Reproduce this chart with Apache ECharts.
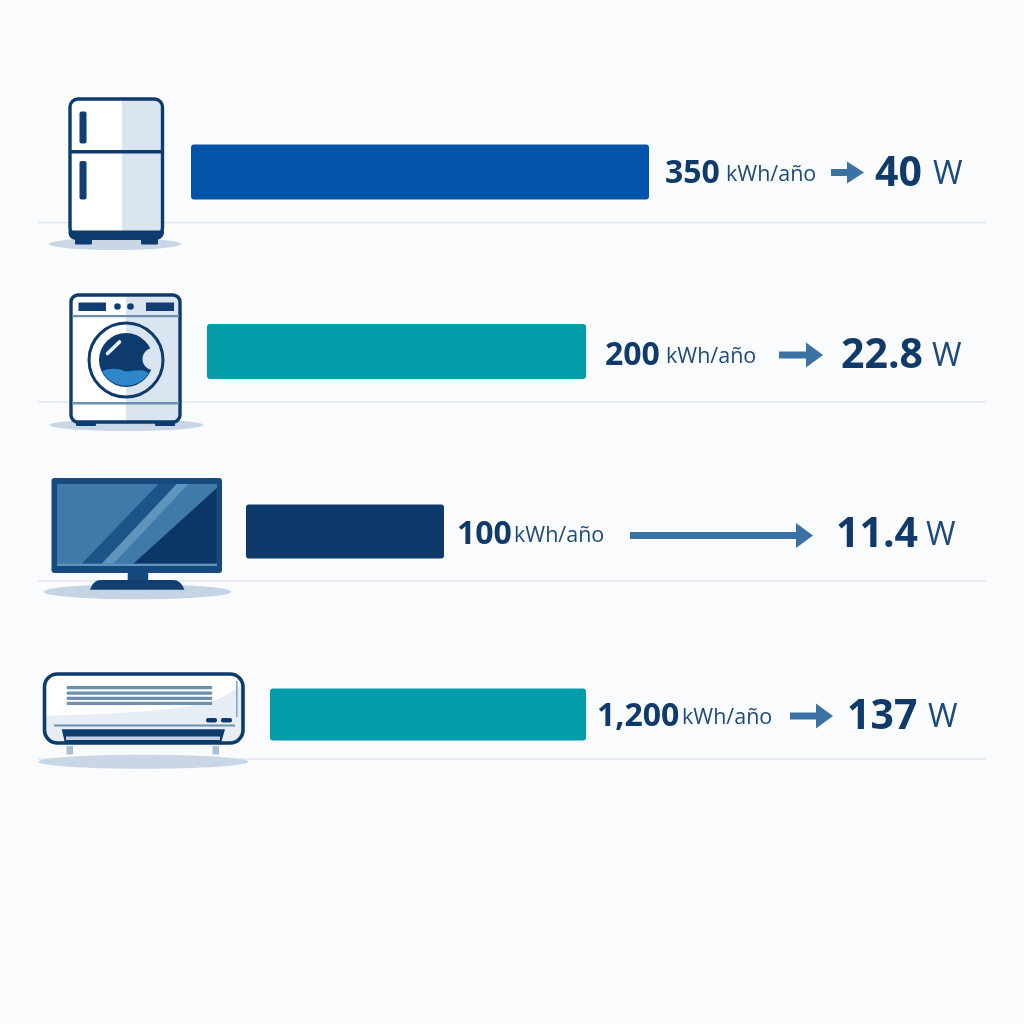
<!DOCTYPE html>
<html>
<head>
<meta charset="utf-8">
<style>html,body{margin:0;padding:0;background:#fafbfd}#c{width:1024px;height:1024px}</style>
<script src="https://cdn.jsdelivr.net/npm/echarts@6/dist/echarts.min.js"></script>
</head>
<body>
<div id="c"></div>
<script>
// ---- data ----
var categories = ['Frigorífico', 'Lavadora', 'Televisor', 'Aire acondicionado'];
var kwhLabels = ['350', '200', '100', '1,200'];
var unitLabel = 'kWh/año';
var wattLabels = ['40', '22.8', '11.4', '137'];
var wattUnit = 'W';
var barStart = [191, 207, 246, 270];
var barEnd = [649, 586, 444, 586];
var rowCenter = [172, 351.5, 531.5, 714.5];
var barThickness = [55, 55, 54, 52];
var baseLine = [222.5, 402, 581, 759];
var kwhX = [665, 605, 457, 597];
var unitX = [726, 666, 514, 682];
var arrowStart = [831, 779, 630, 790];
var arrowEnd = [864, 823, 813, 833];
var arrowY = [172.5, 355, 535.5, 716];
var textY = [174, 356, 535, 717];
var wattX = [875, 841, 836, 847];
var wattUnitX = [933, 932, 926, 928];
var barColors = ['#0353a8', '#039eaa', '#0e3a6b', '#039eaa'];
var lineRange = [38, 986];

var NAVY = '#0d3b6e', SHADE = '#dbe5f0', SHADOW = '#c9d6e5';
var FONT = '"Open Sans", "Noto Sans", sans-serif';
var TEXT = '#0f3a6a';

function rect(x, y, w, h, fill, r, extra) {
  var e = {type: 'rect', shape: {x: x, y: y, width: w, height: h, r: r || 0}, style: {fill: fill}};
  if (extra) e.style = Object.assign(e.style, extra);
  return e;
}
function poly(points, fill) { return {type: 'polygon', shape: {points: points}, style: {fill: fill}}; }
function ellipse(cx, cy, rx, ry, fill) { return {type: 'ellipse', shape: {cx: cx, cy: cy, rx: rx, ry: ry}, style: {fill: fill}}; }
function circle(cx, cy, r, fill, stroke, lw) {
  return {type: 'circle', shape: {cx: cx, cy: cy, r: r}, style: {fill: fill, stroke: stroke || null, lineWidth: lw || 0}};
}
function path(d, fill) {
  return {type: 'path', shape: {pathData: d}, style: {fill: fill}};
}
function line(x1, y1, x2, y2, stroke, lw) {
  return {type: 'line', shape: {x1: x1, y1: y1, x2: x2, y2: y2}, style: {stroke: stroke, lineWidth: lw, lineCap: 'round'}};
}

var icons = [
  // fridge
  ellipse(115, 244, 66, 6, SHADOW),
  rect(70, 99, 92.5, 137, '#ffffff', 8),
  rect(122, 100, 39.5, 132, SHADE),
  rect(70, 99, 92.5, 137, 'none', 8, {stroke: NAVY, lineWidth: 3.4}),
  rect(70, 150, 92, 3.4, NAVY),
  rect(79.5, 111.5, 7, 32, '#123f72', 2),
  rect(79.5, 161, 7, 38.5, '#123f72', 2),
  path('M68.5,230.5 L164,230.5 L164,233 Q163,240 155,240 L77,240 Q69,240 68.5,233 Z', NAVY),
  rect(75, 236, 17, 8.5, NAVY, 1),
  rect(141, 236, 17, 8.5, NAVY, 1),
  // washer
  ellipse(126.5, 425, 77, 6, SHADOW),
  rect(71, 295, 109, 127, '#ffffff', 7),
  rect(126, 297, 53, 124, SHADE),
  rect(71, 295, 109, 127, 'none', 7, {stroke: NAVY, lineWidth: 3.4}),
  rect(78.5, 302.5, 27.5, 8.5, '#123f72'),
  rect(146, 302.5, 28, 8.5, '#123f72'),
  circle(117.5, 306.5, 3.3, '#123f72'),
  circle(130.5, 306.5, 3.3, '#123f72'),
  rect(72, 315, 107, 2.2, '#6f8fb0'),
  rect(72, 402, 107, 2.6, '#6f8fb0'),
  circle(126, 360, 37, '#ffffff'),
  path('M126,323 A37,37 0 0 1 126,397 Z', SHADE),
  circle(126, 360, 27, NAVY),
  path('M102,371 C110,368 118,368 124,371 C130,373 140,367 149,373 A27,27 0 0 1 102,371 Z', '#2f86c8'),
  circle(153.5, 359, 11, SHADE),
  circle(126, 360, 37, 'none', NAVY, 3),
  line(107.5, 353.5, 119.5, 342, '#e9f0f7', 3.6),
  rect(76, 421, 20, 5, NAVY, 1),
  rect(155, 421, 20, 5, NAVY, 1),
  // tv
  ellipse(137.5, 591.7, 94, 7.5, '#c5d4e4'),
  rect(127.7, 572, 20.5, 9, '#164a7e'),
  path('M90,589.7 Q93,580 101,580 L173,580 Q181,580 184.5,589.7 Z', '#123f72'),
  rect(51.5, 478, 170.5, 95, '#164a7e', 3),
  rect(57, 484, 160, 82, '#3f7aa9'),
  poly([[81.7, 563.7], [158.3, 484], [176.7, 484], [101.7, 563.7]], '#1d5488'),
  poly([[101.7, 563.7], [176.7, 484], [188.3, 484], [113.3, 563.7]], '#5f94bd'),
  poly([[133.3, 563.7], [216.8, 488], [216.8, 563.7]], '#0c3666'),
  rect(57, 563.7, 160, 2.3, '#5f94bd'),
  // air conditioner
  ellipse(143.3, 761.7, 105, 7, SHADOW),
  rect(66.5, 746, 6.5, 8.5, '#a9bfd4'),
  rect(212.5, 746, 6.5, 8.5, '#a9bfd4'),
  rect(44.5, 674, 198.5, 69, '#ffffff', 13),
  path('M45,716 C100,714 170,712 205,703 C225,698 235,690 242,683 L242,730 Q242,742 230,742 L57,742 Q45,742 45,730 Z', '#e6edf4'),
  rect(44.5, 674, 198.5, 69, 'none', 13, {stroke: NAVY, lineWidth: 3.6}),
  rect(66.7, 686, 145.5, 3.3, '#6d8fb0', 1),
  rect(66.7, 691.5, 145.5, 3.3, '#6d8fb0', 1),
  rect(66.7, 696.7, 145.5, 3.3, '#6d8fb0', 1),
  rect(66.7, 701.8, 145.5, 3.3, '#6d8fb0', 1),
  rect(236, 681, 1.6, 36, '#8aa6c2'),
  rect(206, 718, 11, 4.4, NAVY, 2),
  rect(221, 718, 11, 4.4, NAVY, 2),
  rect(54, 724.6, 181, 2, '#6f8fae'),
  poly([[61.7, 729.3], [225, 729.3], [221, 743], [65, 743]], NAVY),
  rect(66, 736.5, 154, 3.6, '#c3d2e2')
];

var rows = categories.map(function (name, i) { return i; });

var option = {
  backgroundColor: '#fafbfd',
  animation: false,
  tooltip: {show: false},
  grid: {left: 0, right: 0, top: 0, bottom: 0},
  xAxis: {type: 'value', min: 0, max: 1024, show: false},
  yAxis: {type: 'value', min: 0, max: 1024, inverse: true, show: false},
  series: [
    {
      name: 'Líneas',
      type: 'custom',
      silent: true,
      z: 1,
      data: rows.map(function (i) { return [lineRange[0], lineRange[1], baseLine[i]]; }),
      renderItem: function (params, api) {
        var a = api.coord([api.value(0), api.value(2)]);
        var b = api.coord([api.value(1), api.value(2)]);
        return {type: 'line', shape: {x1: a[0], y1: a[1], x2: b[0], y2: b[1]},
          style: {stroke: '#dfe6f2', lineWidth: 1.6}};
      }
    },
    {
      name: 'Iconos',
      type: 'custom',
      silent: true,
      clip: false,
      z: 5,
      data: [[0, 0]],
      renderItem: function () {
        return {type: 'group', children: icons};
      }
    },
    {
      name: 'Consumo',
      type: 'custom',
      z: 2,
      data: rows.map(function (i) { return [barStart[i], barEnd[i], rowCenter[i], barThickness[i]]; }),
      renderItem: function (params, api) {
        var a = api.coord([api.value(0), api.value(2)]);
        var b = api.coord([api.value(1), api.value(2)]);
        var h = api.size([0, api.value(3)])[1];
        return {type: 'rect',
          shape: {x: a[0], y: a[1] - h / 2, width: b[0] - a[0], height: h, r: 3},
          style: {fill: barColors[params.dataIndex]}};
      }
    },
    {
      name: 'Flechas',
      type: 'custom',
      z: 2,
      data: rows.map(function (i) { return [arrowStart[i], arrowEnd[i], arrowY[i]]; }),
      renderItem: function (params, api) {
        var a = api.coord([api.value(0), api.value(2)]);
        var b = api.coord([api.value(1), api.value(2)]);
        var head = 17, half = params.dataIndex === 0 ? 11 : 12.5, s = 3.6;
        var y = a[1];
        return {type: 'polygon',
          shape: {points: [[a[0], y - s], [b[0] - head, y - s], [b[0] - head, y - half], [b[0], y],
            [b[0] - head, y + half], [b[0] - head, y + s], [a[0], y + s]]},
          style: {fill: '#3a72a4'}};
      }
    },
    {
      name: 'Etiquetas',
      type: 'custom',
      z: 3,
      data: rows.map(function (i) { return [kwhX[i], unitX[i], wattX[i], wattUnitX[i], textY[i]]; }),
      renderItem: function (params, api) {
        var i = params.dataIndex;
        var y = api.coord([0, api.value(4)])[1];
        function t(dim, str, size, weight, color, dy) {
          return {type: 'text',
            x: api.coord([api.value(dim), 0])[0], y: y + dy,
            style: {text: str, fontFamily: FONT, fontSize: size, fontWeight: weight, fill: color,
              align: 'left', verticalAlign: 'middle'}};
        }
        return {type: 'group', children: [
          t(0, kwhLabels[i], 32, 700, TEXT, 0),
          t(1, unitLabel, 21.5, 400, '#1d4a7c', 1),
          t(2, wattLabels[i], 41, 700, TEXT, 0),
          t(3, wattUnit, 32, 500, '#1c4a7e', 1)
        ]};
      }
    }
  ]
};
echarts.init(document.getElementById('c')).setOption(option);
</script>
</body>
</html>
